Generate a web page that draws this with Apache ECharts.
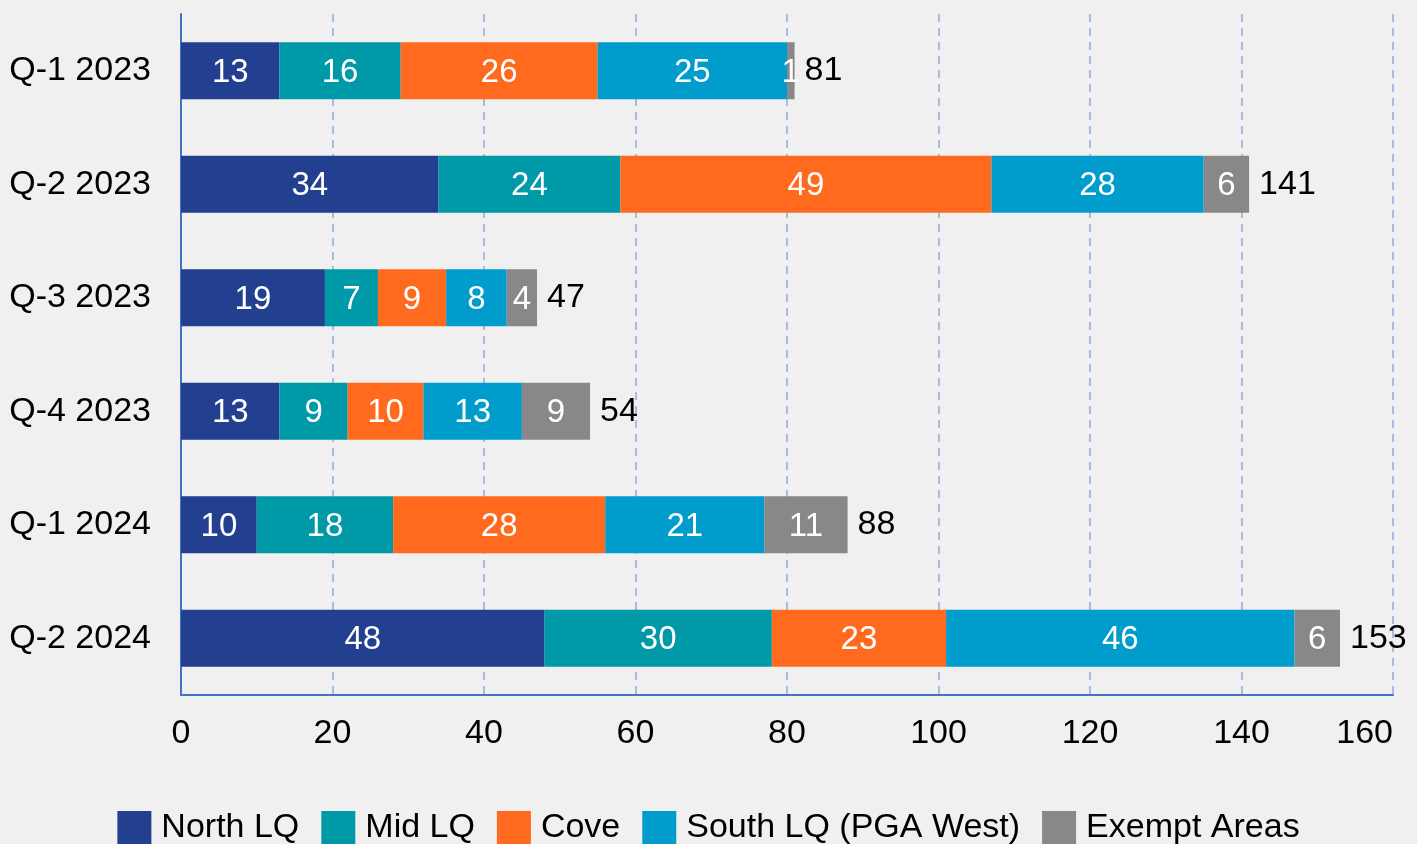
<!DOCTYPE html>
<html>
<head>
<meta charset="utf-8">
<script src="https://cdn.jsdelivr.net/npm/echarts@6/dist/echarts.min.js"></script>
<style>
  html, body { margin: 0; padding: 0; background: #f0f0f0; }
  #chart { width: 1417px; height: 844px; }
</style>
</head>
<body>
<div id="chart"></div>
<script>
const quarters = ['Q-1 2023', 'Q-2 2023', 'Q-3 2023', 'Q-4 2023', 'Q-1 2024', 'Q-2 2024']
const northLQ = [13, 34, 19, 13, 10, 48]
const midLQ = [16, 24, 7, 9, 18, 30]
const cove = [26, 49, 9, 10, 28, 23]
const southLQ = [25, 28, 8, 13, 21, 46]
const exempt = [1, 6, 4, 9, 11, 6]
const totals = [81, 141, 47, 54, 88, 153]
const xTicks = [0, 20, 40, 60, 80, 100, 120, 140, 160]

const chart = echarts.init(document.getElementById('chart'))

const font = 'Liberation Sans, Arial, sans-serif'

const segment = (name, data, color) => ({
  name: name,
  type: 'bar',
  stack: 'total',
  barWidth: 57,
  data: data,
  itemStyle: { color: color },
  label: {
    show: true,
    position: 'inside',
    offset: [0, 2],
    color: '#ffffff',
    fontSize: 33,
    fontFamily: font
  }
})

const option = {
  backgroundColor: '#f0f0f0',
  animation: false,
  grid: { left: 181, right: 24, top: 14, bottom: 149, outerBoundsMode: 'none', containLabel: false },
  legend: {
    data: ['North LQ', 'Mid LQ', 'Cove', 'South LQ (PGA West)', 'Exempt Areas'],
    top: 806,
    left: 'center',
    itemWidth: 34,
    itemHeight: 34,
    itemGap: 22,
    icon: 'rect',
    textStyle: { fontSize: 34, color: '#000', fontFamily: font, padding: [0, 0, 0, 5] }
  },
  xAxis: {
    type: 'value',
    min: xTicks[0],
    max: xTicks[xTicks.length - 1],
    interval: 20,
    axisLine: { show: true, lineStyle: { color: '#4472c4', width: 2 } },
    axisTick: { show: false },
    axisLabel: { fontSize: 34, color: '#000', fontFamily: font, margin: 22, alignMaxLabel: 'right' },
    splitLine: { show: true, lineStyle: { color: '#8faadc', type: [8, 6], width: 1.5 } }
  },
  yAxis: {
    type: 'category',
    inverse: true,
    data: quarters,
    axisLine: { show: true, lineStyle: { color: '#4472c4', width: 2 } },
    axisTick: { show: false },
    axisLabel: { fontSize: 34, color: '#000', fontFamily: font, margin: 30, padding: [4, 0, 0, 0] }
  },
  series: [
    segment('North LQ', northLQ, '#233f8f'),
    segment('Mid LQ', midLQ, '#0099a8'),
    segment('Cove', cove, '#ff6a1e'),
    segment('South LQ (PGA West)', southLQ, '#009ccb'),
    segment('Exempt Areas', exempt, '#888888'),
    {
      name: 'Total',
      type: 'bar',
      stack: 'total',
      barWidth: 57,
      data: totals.map(() => 0),
      itemStyle: { color: 'transparent' },
      label: {
        show: true,
        position: 'right',
        distance: 10,
        color: '#000',
        fontSize: 34,
        fontFamily: font,
        formatter: p => totals[p.dataIndex]
      }
    }
  ]
}

chart.setOption(option)
</script>
</body>
</html>
